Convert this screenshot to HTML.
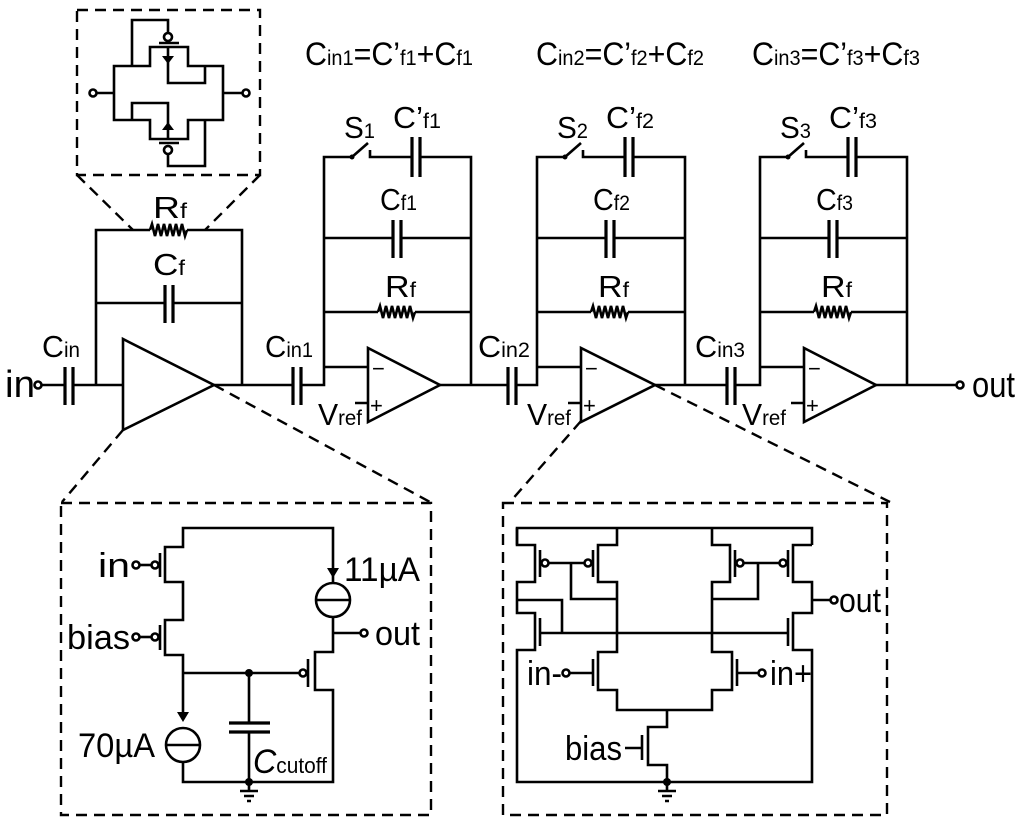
<!DOCTYPE html>
<html><head><meta charset="utf-8"><style>
html,body{margin:0;padding:0;background:#fff;}
svg{display:block;}
text{font-family:"Liberation Sans",sans-serif;fill:#000;}
.w{fill:none;stroke:#000;stroke-width:2.6;stroke-linejoin:miter;}
.d{fill:none;stroke:#000;stroke-width:2.4;stroke-dasharray:11,7;}
.p{stroke:#000;stroke-width:3.2;}
</style></head><body>
<svg width="1024" height="829" viewBox="0 0 1024 829" xmlns="http://www.w3.org/2000/svg">
<defs>
<path id="res" d="M0,0 l2,-6 3,12 3,-12 3,12 3,-12 3,12 3,-12 3,12 3,-12 3,12 3,-12 3,12 2,-6" fill="none" stroke="#000" stroke-width="2.6"/>
</defs>

<!-- ===== top inset ===== -->
<rect x="77" y="10" width="183" height="165" class="d"/>
<line x1="77" y1="175" x2="133" y2="230" class="d"/>
<line x1="260" y1="175" x2="205" y2="230" class="d"/>
<path class="w" d="M114,66 H150 V47 H188 V66 H223 V120 H188 V139 H150 V120 H114 Z"/>
<path class="w" d="M132,66 V20 H168 V33"/>
<circle cx="168" cy="37" r="4" class="w" fill="#fff"/>
<line x1="159" y1="43" x2="179" y2="43" class="w"/>
<path class="w" d="M205,66 V83 H168 V47"/>
<polygon points="162,56 174,56 168,64"/>
<path class="w" d="M132,120 V103 H168 V139"/>
<polygon points="162,130 174,130 168,122"/>
<line x1="159" y1="143" x2="179" y2="143" class="w"/>
<circle cx="168" cy="150" r="4" class="w" fill="#fff"/>
<path class="w" d="M168,154 V166 H205 V120"/>
<line x1="97" y1="93" x2="114" y2="93" class="w"/>
<circle cx="93" cy="93" r="3.5" class="w" fill="#fff"/>
<line x1="223" y1="93" x2="243" y2="93" class="w"/>
<circle cx="246" cy="93" r="3.5" class="w" fill="#fff"/>

<!-- ===== equations ===== -->
<text x="305" y="65" font-size="32" textLength="168" lengthAdjust="spacingAndGlyphs">C<tspan font-size="21">in1</tspan>=C’<tspan font-size="21">f1</tspan>+C<tspan font-size="21">f1</tspan></text>
<text x="536" y="65" font-size="32" textLength="168" lengthAdjust="spacingAndGlyphs">C<tspan font-size="21">in2</tspan>=C’<tspan font-size="21">f2</tspan>+C<tspan font-size="21">f2</tspan></text>
<text x="752" y="65" font-size="32" textLength="168" lengthAdjust="spacingAndGlyphs">C<tspan font-size="21">in3</tspan>=C’<tspan font-size="21">f3</tspan>+C<tspan font-size="21">f3</tspan></text>

<!-- ===== stage 1 ===== -->
<text x="5" y="397" font-size="38" textLength="30" lengthAdjust="spacingAndGlyphs">in</text>
<circle cx="38" cy="385" r="3.5" class="w" fill="#fff"/>
<line x1="42" y1="385" x2="65" y2="385" class="w"/>
<line x1="65" y1="367" x2="65" y2="405" class="p"/>
<line x1="73" y1="367" x2="73" y2="405" class="p"/>
<line x1="73" y1="385" x2="123" y2="385" class="w"/>
<text x="42" y="357" font-size="31" textLength="38" lengthAdjust="spacingAndGlyphs">C<tspan font-size="21">in</tspan></text>
<polygon points="123,339 123,430 214,385" class="w"/>
<path class="w" d="M96,385 V230 H150 M187,230 H242 V385"/>
<use href="#res" x="150" y="230"/>
<text x="153" y="218" font-size="31" textLength="34" lengthAdjust="spacingAndGlyphs">R<tspan font-size="21">f</tspan></text>
<path class="w" d="M96,303 H165 M173,303 H242"/>
<line x1="165" y1="285" x2="165" y2="323" class="p"/>
<line x1="173" y1="285" x2="173" y2="323" class="p"/>
<text x="153" y="275" font-size="31" textLength="32" lengthAdjust="spacingAndGlyphs">C<tspan font-size="21">f</tspan></text>
<line x1="214" y1="385" x2="293" y2="385" class="w"/>
<line x1="293" y1="367" x2="293" y2="405" class="p"/>
<line x1="301" y1="367" x2="301" y2="405" class="p"/>
<text x="265" y="357" font-size="31" textLength="48" lengthAdjust="spacingAndGlyphs">C<tspan font-size="21">in1</tspan></text>
<line x1="214" y1="385" x2="430" y2="502" class="d"/>
<line x1="123" y1="430" x2="62" y2="502" class="d"/>

<!-- ===== stage 2 ===== -->
<g>
<path class="w" d="M301,385 H324 V157 H352 M370,150 V157 H412 M420,157 H471 V385"/>
<line x1="352" y1="157" x2="368" y2="143" class="w"/>
<circle cx="352" cy="157" r="2.5"/>
<line x1="412" y1="137" x2="412" y2="177" class="p"/>
<line x1="420" y1="137" x2="420" y2="177" class="p"/>
<path class="w" d="M324,238 H393 M401,238 H471"/>
<line x1="393" y1="220" x2="393" y2="258" class="p"/>
<line x1="401" y1="220" x2="401" y2="258" class="p"/>
<path class="w" d="M324,312 H378 M415,312 H471"/>
<use href="#res" x="378" y="312"/>
<path class="w" d="M324,367 H368 M355,403 H368"/>
<polygon points="368,348 368,422 440,385" class="w"/>
<line x1="440" y1="385" x2="508" y2="385" class="w"/>
<text x="372" y="376" font-size="22">−</text>
<text x="370" y="413" font-size="22">+</text>
<text x="344" y="138" font-size="31" textLength="31" lengthAdjust="spacingAndGlyphs">S<tspan font-size="21">1</tspan></text>
<text x="393" y="128" font-size="31" textLength="48" lengthAdjust="spacingAndGlyphs">C’<tspan font-size="21">f1</tspan></text>
<text x="380" y="210" font-size="31" textLength="37" lengthAdjust="spacingAndGlyphs">C<tspan font-size="21">f1</tspan></text>
<text x="385" y="297" font-size="31" textLength="31" lengthAdjust="spacingAndGlyphs">R<tspan font-size="21">f</tspan></text>
<text x="318" y="425" font-size="31" textLength="44" lengthAdjust="spacingAndGlyphs">V<tspan font-size="21">ref</tspan></text>
</g>
<line x1="508" y1="367" x2="508" y2="405" class="p"/>
<line x1="516" y1="367" x2="516" y2="405" class="p"/>
<text x="478" y="357" font-size="31" textLength="52" lengthAdjust="spacingAndGlyphs">C<tspan font-size="21">in2</tspan></text>

<!-- ===== stage 3 ===== -->
<g transform="translate(213,0)">
<path class="w" d="M303,385 H324 V157 H352 M370,150 V157 H412 M420,157 H472 V385"/>
<line x1="352" y1="157" x2="368" y2="143" class="w"/>
<circle cx="352" cy="157" r="2.5"/>
<line x1="412" y1="137" x2="412" y2="177" class="p"/>
<line x1="420" y1="137" x2="420" y2="177" class="p"/>
<path class="w" d="M324,238 H393 M401,238 H472"/>
<line x1="393" y1="220" x2="393" y2="258" class="p"/>
<line x1="401" y1="220" x2="401" y2="258" class="p"/>
<path class="w" d="M324,312 H378 M415,312 H472"/>
<use href="#res" x="378" y="312"/>
<path class="w" d="M324,367 H368 M355,403 H368"/>
<polygon points="368,348 368,422 442,385" class="w"/>
<line x1="442" y1="385" x2="514" y2="385" class="w"/>
<text x="372" y="376" font-size="22">−</text>
<text x="370" y="413" font-size="22">+</text>
<text x="344" y="138" font-size="31" textLength="31" lengthAdjust="spacingAndGlyphs">S<tspan font-size="21">2</tspan></text>
<text x="393" y="128" font-size="31" textLength="48" lengthAdjust="spacingAndGlyphs">C’<tspan font-size="21">f2</tspan></text>
<text x="380" y="210" font-size="31" textLength="37" lengthAdjust="spacingAndGlyphs">C<tspan font-size="21">f2</tspan></text>
<text x="385" y="297" font-size="31" textLength="31" lengthAdjust="spacingAndGlyphs">R<tspan font-size="21">f</tspan></text>
<text x="314" y="425" font-size="31" textLength="44" lengthAdjust="spacingAndGlyphs">V<tspan font-size="21">ref</tspan></text>
</g>
<line x1="727" y1="367" x2="727" y2="405" class="p"/>
<line x1="735" y1="367" x2="735" y2="405" class="p"/>
<text x="695" y="357" font-size="31" textLength="50" lengthAdjust="spacingAndGlyphs">C<tspan font-size="21">in3</tspan></text>
<line x1="655" y1="385" x2="890" y2="502" class="d"/>
<line x1="581" y1="421" x2="510" y2="502" class="d"/>

<!-- ===== stage 4 ===== -->
<g transform="translate(436,0)">
<path class="w" d="M299,385 H324 V157 H352 M370,150 V157 H412 M420,157 H471 V385"/>
<line x1="352" y1="157" x2="368" y2="143" class="w"/>
<circle cx="352" cy="157" r="2.5"/>
<line x1="412" y1="137" x2="412" y2="177" class="p"/>
<line x1="420" y1="137" x2="420" y2="177" class="p"/>
<path class="w" d="M324,238 H393 M401,238 H471"/>
<line x1="393" y1="220" x2="393" y2="258" class="p"/>
<line x1="401" y1="220" x2="401" y2="258" class="p"/>
<path class="w" d="M324,312 H378 M415,312 H471"/>
<use href="#res" x="378" y="312"/>
<path class="w" d="M324,367 H368 M355,403 H368"/>
<polygon points="368,348 368,422 440,385" class="w"/>
<line x1="440" y1="385" x2="520" y2="385" class="w"/>
<text x="372" y="376" font-size="22">−</text>
<text x="370" y="413" font-size="22">+</text>
<text x="344" y="138" font-size="31" textLength="31" lengthAdjust="spacingAndGlyphs">S<tspan font-size="21">3</tspan></text>
<text x="393" y="128" font-size="31" textLength="48" lengthAdjust="spacingAndGlyphs">C’<tspan font-size="21">f3</tspan></text>
<text x="380" y="210" font-size="31" textLength="37" lengthAdjust="spacingAndGlyphs">C<tspan font-size="21">f3</tspan></text>
<text x="385" y="297" font-size="31" textLength="31" lengthAdjust="spacingAndGlyphs">R<tspan font-size="21">f</tspan></text>
<text x="306" y="425" font-size="31" textLength="44" lengthAdjust="spacingAndGlyphs">V<tspan font-size="21">ref</tspan></text>
</g>
<circle cx="960" cy="385" r="3.5" class="w" fill="#fff"/>
<text x="972" y="397" font-size="36" textLength="43" lengthAdjust="spacingAndGlyphs">out</text>

<!-- ===== bottom-left box ===== -->
<rect x="61" y="503" width="370" height="312" class="d"/>
<path class="w" d="M183,673 V655 H165 V620 H183 V582 H165 V547 H183 V528 H333 V583"/>
<line x1="160" y1="553" x2="160" y2="577" class="w"/>
<circle cx="155" cy="565" r="3.5" class="w" fill="#fff"/>
<line x1="140" y1="565" x2="151" y2="565" class="w"/>
<circle cx="136" cy="565" r="3.5" class="w" fill="#fff"/>
<line x1="160" y1="625" x2="160" y2="650" class="w"/>
<circle cx="155" cy="637" r="3.5" class="w" fill="#fff"/>
<line x1="140" y1="637" x2="151" y2="637" class="w"/>
<circle cx="136" cy="637" r="3.5" class="w" fill="#fff"/>
<text x="98" y="577" font-size="34" textLength="32" lengthAdjust="spacingAndGlyphs">in</text>
<text x="67" y="649" font-size="34" textLength="63" lengthAdjust="spacingAndGlyphs">bias</text>
<polygon points="327,568 339,568 333,578"/>
<circle cx="333" cy="600" r="17" class="w"/>
<line x1="316" y1="600" x2="350" y2="600" class="w"/>
<path class="w" d="M333,617 V652 H315 V690 H333 V782 H183 V762"/>
<line x1="333" y1="633" x2="360" y2="633" class="w"/>
<circle cx="364" cy="633" r="3.5" class="w" fill="#fff"/>
<text x="375" y="645" font-size="34" textLength="45" lengthAdjust="spacingAndGlyphs">out</text>
<text x="344" y="581" font-size="34" textLength="76" lengthAdjust="spacingAndGlyphs">11µA</text>
<line x1="308" y1="659" x2="308" y2="687" class="w"/>
<circle cx="303" cy="673" r="3.5" class="w" fill="#fff"/>
<path class="w" d="M183,673 H299 M183,673 V712"/>
<polygon points="177,712 189,712 183,722"/>
<circle cx="183" cy="745" r="17" class="w"/>
<line x1="166" y1="745" x2="200" y2="745" class="w"/>
<text x="78" y="757" font-size="34" textLength="77" lengthAdjust="spacingAndGlyphs">70µA</text>
<circle cx="249" cy="673" r="4"/>
<path class="w" d="M249,673 V723 M249,732 V782"/>
<line x1="229" y1="723" x2="270" y2="723" class="p"/>
<line x1="229" y1="732" x2="270" y2="732" class="p"/>
<circle cx="249" cy="782" r="4"/>
<path class="w" d="M249,782 V790 M240,791 H258 M244,796 H254 M247,801 H251"/>
<text x="253" y="773" font-size="34" font-style="italic" textLength="74" lengthAdjust="spacingAndGlyphs">C<tspan font-size="22" font-style="normal">cutoff</tspan></text>

<!-- ===== bottom-right box ===== -->
<rect x="503" y="503" width="384" height="312" class="d"/>
<path class="w" d="M517,545 V528 H812 V545"/>
<path class="w" d="M517,528 V545 H535 V582 H517 V613 H535 V650 H517 V782 H812 V650 H793 V613 H812 V582 H793 V545 H812"/>
<path class="w" d="M617,528 V545 H598 V582 H617 V652 H598 V690 H617 V710 H712 V690 H732 V652 H712 V582 H730 V545 H712 V528"/>
<line x1="540" y1="550" x2="540" y2="577" class="w"/>
<circle cx="545" cy="563" r="3.5" class="w" fill="#fff"/>
<line x1="593" y1="550" x2="593" y2="577" class="w"/>
<circle cx="588" cy="563" r="3.5" class="w" fill="#fff"/>
<path class="w" d="M549,563 H584 M571,563 V599 H617"/>
<line x1="735" y1="550" x2="735" y2="577" class="w"/>
<circle cx="740" cy="563" r="3.5" class="w" fill="#fff"/>
<line x1="788" y1="550" x2="788" y2="577" class="w"/>
<circle cx="783" cy="563" r="3.5" class="w" fill="#fff"/>
<path class="w" d="M744,563 H779 M758,563 V599 H712"/>
<path class="w" d="M517,600 H562 V633"/>
<line x1="540" y1="618" x2="540" y2="646" class="w"/>
<line x1="788" y1="618" x2="788" y2="646" class="w"/>
<line x1="540" y1="633" x2="788" y2="633" class="w"/>
<path class="w" d="M812,600 H830"/>
<circle cx="834" cy="600" r="3.5" class="w" fill="#fff"/>
<text x="839" y="612" font-size="34" textLength="42" lengthAdjust="spacingAndGlyphs">out</text>
<line x1="593" y1="659" x2="593" y2="686" class="w"/>
<line x1="570" y1="673" x2="593" y2="673" class="w"/>
<circle cx="566" cy="673" r="3.5" class="w" fill="#fff"/>
<text x="527" y="685" font-size="34" textLength="35" lengthAdjust="spacingAndGlyphs">in-</text>
<line x1="737" y1="659" x2="737" y2="686" class="w"/>
<line x1="737" y1="673" x2="758" y2="673" class="w"/>
<circle cx="762" cy="673" r="3.5" class="w" fill="#fff"/>
<text x="770" y="685" font-size="34" textLength="42" lengthAdjust="spacingAndGlyphs">in+</text>
<path class="w" d="M667,710 V727 H648 V765 H667 V782"/>
<line x1="642" y1="735" x2="642" y2="760" class="w"/>
<line x1="625" y1="748" x2="642" y2="748" class="w"/>
<text x="565" y="760" font-size="34" textLength="57" lengthAdjust="spacingAndGlyphs">bias</text>
<circle cx="667" cy="782" r="4"/>
<path class="w" d="M667,782 V790 M658,791 H676 M662,796 H672 M665,801 H669"/>
</svg>
</body></html>
